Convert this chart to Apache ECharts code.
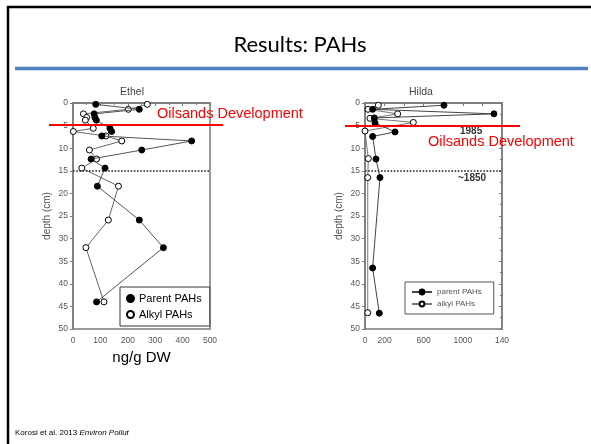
<!DOCTYPE html>
<html><head><meta charset="utf-8">
<script src="https://cdn.jsdelivr.net/npm/echarts@6/dist/echarts.min.js"></script>
<style>html,body{margin:0;padding:0;background:#fff}#c{width:591px;height:444px}</style>
</head><body><div id="c"></div>
<script>
// Ethel core (depth cm, ng/g DW)
const ethelDepth  = [0.3, 1.4, 2.4, 3.2, 3.8, 5.6, 6.3, 7.3, 8.4, 10.4, 12.4, 14.4, 18.4, 25.9, 32, 44];
const ethelParent = [83, 242, 77, 80, 85, 135, 141, 105, 433, 251, 66, 117, 89, 242, 330, 86];
const ethelAlkyl  = [271, 202, 38, 50, 45, 74, 1, 120, 178, 60, 86, 32, 166, 129, 47, 113];
// Hilda core
const hildaParentDepth = [0.5, 1.4, 2.4, 3.3, 4.4, 6.4, 7.4, 12.4, 16.5, 36.5, 46.5];
const hildaParent      = [807, 78, 1318, 95, 102, 307, 78, 112, 153, 78, 146];
const hildaAlkylDepth  = [0.5, 1.4, 2.4, 3.4, 4.3, 6.2, 12.3, 16.5, 46.4];
const hildaAlkyl       = [136, 31, 334, 51, 494, 0, 34, 28, 28];
// tick labels
const hildaXLabels = {0:'0', 200:'200', 600:'600', 1000:'1000', 1400:'140'};
const dottedDepth = 15;

const zip = (xs, ys) => xs.map((v, i) => [v, ys[i]]);
const AX = '#7a7a7a', LBL = '#555', FF = '"Liberation Sans", Arial, sans-serif';

function yAx(grid) {
  return {gridIndex: grid, type: 'value', inverse: true, min: 0, max: 50, interval: 5,
    name: 'depth (cm)', nameLocation: 'middle', nameRotate: 90, nameGap: 21,
    nameTextStyle: {fontSize: 10, color: LBL, fontFamily: FF},
    axisLine: {show: true, lineStyle: {color: AX, width: 1.5}},
    axisTick: {show: true, length: 3, lineStyle: {color: AX}},
    axisLabel: {fontSize: 8.5, color: LBL, fontFamily: FF, margin: 5},
    splitLine: {show: false}};
}
const markDotted = {symbol: 'none', silent: true, label: {show: false},
  lineStyle: {type: 'dotted', color: '#222', width: 1.6}, data: [{yAxis: dottedDepth}]};
const filled = {color: '#000', borderColor: '#000', borderWidth: 1};
const open = {color: '#fff', borderColor: '#000', borderWidth: 1};

const chart = echarts.init(document.getElementById('c'), null, {renderer: 'canvas'});
chart.setOption({
  animation: false,
  backgroundColor: '#fff',
  title: [
    {text: 'Ethel', left: 127, top: 82, textAlign: 'center', textStyle: {fontSize: 10.5, fontWeight: 'normal', color: '#444', fontFamily: FF}},
    {text: 'Hilda', left: 416, top: 82, textAlign: 'center', textStyle: {fontSize: 10.5, fontWeight: 'normal', color: '#444', fontFamily: FF}}
  ],
  grid: [
    {left: 73, top: 103, width: 137, height: 226, show: true, borderColor: AX, borderWidth: 1.5, backgroundColor: 'transparent'},
    {left: 365, top: 103, width: 137, height: 226, show: true, borderColor: AX, borderWidth: 1.5, backgroundColor: 'transparent'}
  ],
  xAxis: [
    {gridIndex: 0, type: 'value', min: 0, max: 500, interval: 100,
     name: 'ng/g DW', nameLocation: 'middle', nameGap: 21,
     nameTextStyle: {fontSize: 15, color: '#000', fontFamily: FF},
     axisLine: {lineStyle: {color: AX, width: 1.5}}, axisTick: {length: 3, lineStyle: {color: AX}},
     minorTick: {show: true, splitNumber: 2, length: 2, lineStyle: {color: AX}},
     axisLabel: {fontSize: 8.5, color: LBL, fontFamily: FF, margin: 7}, splitLine: {show: false}},
    {gridIndex: 1, type: 'value', min: 0, max: 1400, interval: 200,
     axisLine: {lineStyle: {color: AX, width: 1.5}}, axisTick: {length: 3, lineStyle: {color: AX}},
     axisLabel: {fontSize: 8.5, color: LBL, fontFamily: FF, margin: 7, showMaxLabel: true,
       formatter: v => (hildaXLabels[v] !== undefined ? hildaXLabels[v] : '')}, splitLine: {show: false}}
  ],
  yAxis: [
    yAx(0), yAx(1),
    {gridIndex: 1, type: 'value', inverse: true, min: 0, max: 50, interval: 5, position: 'right',
     axisLine: {show: true, lineStyle: {color: AX, width: 1.5}},
     axisTick: {show: true, inside: true, length: 3, lineStyle: {color: AX}},
     minorTick: {show: true, splitNumber: 2, length: 2, lineStyle: {color: AX}},
     axisLabel: {show: false}, splitLine: {show: false}}
  ],
  legend: [
    {data: ['Parent PAHs', 'Alkyl PAHs'], orient: 'vertical', left: 120, top: 287,
     icon: 'circle', itemWidth: 7, itemHeight: 7, itemGap: 5,
     padding: [6, 8, 6, 6], backgroundColor: '#fff', borderColor: '#333', borderWidth: 1,
     textStyle: {fontSize: 11, color: '#000', fontFamily: FF}},
    {data: ['parent PAHs', 'alkyl PAHs'], orient: 'vertical', left: 405, top: 282,
     itemWidth: 20, itemHeight: 6, itemGap: 4,
     padding: [6, 12, 6, 6], backgroundColor: '#fff', borderColor: '#555', borderWidth: 1,
     textStyle: {fontSize: 8, color: '#555', fontFamily: FF}}
  ],
  series: [
    {name: 'Parent PAHs', type: 'line', xAxisIndex: 0, yAxisIndex: 0, data: zip(ethelParent, ethelDepth),
     symbol: 'circle', symbolSize: 6, itemStyle: filled, lineStyle: {color: '#555', width: 1}, z: 3,
     markLine: markDotted},
    {name: 'Alkyl PAHs', type: 'line', xAxisIndex: 0, yAxisIndex: 0, data: zip(ethelAlkyl, ethelDepth),
     symbol: 'circle', symbolSize: 6, itemStyle: open, lineStyle: {color: '#666', width: 1}, z: 2},
    {name: 'parent PAHs', type: 'line', xAxisIndex: 1, yAxisIndex: 1, data: zip(hildaParent, hildaParentDepth),
     symbol: 'circle', symbolSize: 6, itemStyle: filled, lineStyle: {color: '#444', width: 1}, z: 3,
     markLine: markDotted},
    {name: 'alkyl PAHs', type: 'line', xAxisIndex: 1, yAxisIndex: 1, data: zip(hildaAlkyl, hildaAlkylDepth),
     symbol: 'circle', symbolSize: 6, itemStyle: open, lineStyle: {color: '#777', width: 1}, z: 2}
  ],
  graphic: [
    {type: 'line', shape: {x1: 7, y1: 7, x2: 591, y2: 7}, style: {stroke: '#000', lineWidth: 2.5}, z: 50},
    {type: 'line', shape: {x1: 8, y1: 6, x2: 8, y2: 444}, style: {stroke: '#000', lineWidth: 2.5}, z: 50},
    {type: 'line', shape: {x1: 15, y1: 68.5, x2: 588, y2: 68.5}, style: {stroke: '#4f81bd', lineWidth: 3.5}, z: 50},
    {type: 'text', x: 300, y: 45, style: {text: 'Results: PAHs', font: '22px Lato, "Open Sans", sans-serif', fill: '#000', textAlign: 'center', textVerticalAlign: 'middle'}, z: 50},
    {type: 'text', x: 460, y: 131, style: {text: '1985', font: 'bold 10px ' + FF, fill: '#333', textAlign: 'left', textVerticalAlign: 'middle'}, z: 40},
    {type: 'text', x: 458, y: 178, style: {text: '~1850', font: 'bold 10px ' + FF, fill: '#333', textAlign: 'left', textVerticalAlign: 'middle'}, z: 40},
    {type: 'line', shape: {x1: 49, y1: 125, x2: 223, y2: 125}, style: {stroke: '#ff0000', lineWidth: 2}, z: 60},
    {type: 'line', shape: {x1: 345, y1: 126, x2: 520, y2: 126}, style: {stroke: '#ff0000', lineWidth: 2}, z: 60},
    {type: 'text', x: 157, y: 114, style: {text: 'Oilsands Development', font: '14.5px ' + FF, fill: '#ff0000', textAlign: 'left', textVerticalAlign: 'middle'}, z: 60},
    {type: 'text', x: 428, y: 142, style: {text: 'Oilsands Development', font: '14.5px ' + FF, fill: '#ff0000', textAlign: 'left', textVerticalAlign: 'middle'}, z: 60},
    {type: 'text', x: 15, y: 433, style: {text: '{n|Korosi et al. 2013 }{i|Environ Pollut}', textVerticalAlign: 'middle',
      rich: {n: {fontSize: 8, fontFamily: FF, fill: '#000'}, i: {fontSize: 8, fontFamily: FF, fontStyle: 'italic', fill: '#000'}}}, z: 50}
  ]
});
</script>
</body></html>
